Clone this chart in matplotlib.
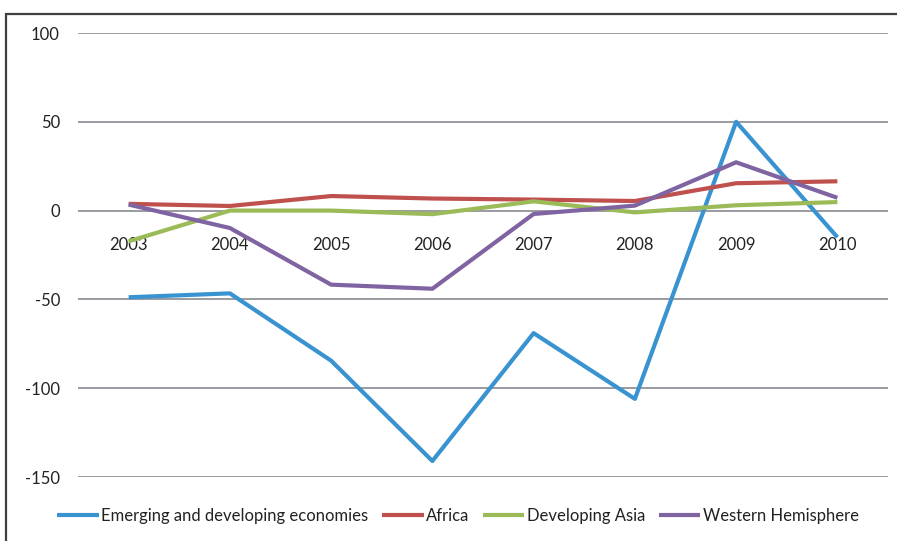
import matplotlib
matplotlib.use('Agg')
from matplotlib import pyplot as plt
from matplotlib.patches import Rectangle

years = ['2003', '2004', '2005', '2006', '2007', '2008', '2009', '2010']
emerging = [-48.8, -46.6, -84.5, -141, -69, -106, 50, -15]
africa = [3.8, 2.6, 8.2, 6.8, 6.2, 5.4, 15.4, 16.5]
dev_asia = [-17.3, 0, 0, -2, 5.2, -1, 3, 4.8]
western = [3.4, -9.8, -41.7, -44, -1.9, 2.8, 27.2, 7.2]

series = [
    ('Emerging and developing economies', emerging, '#3A93D1'),
    ('Africa', africa, '#C0504D'),
    ('Developing Asia', dev_asia, '#9BBB59'),
    ('Western Hemisphere', western, '#8064A2'),
]

plt.rcParams['font.family'] = ['Lato', 'DejaVu Sans']

fig = plt.figure(figsize=(8.97, 5.41), dpi=100)
ax = fig.add_axes([78 / 897, 64 / 541, 810 / 897, 444 / 541])

xs = list(range(len(years)))
for name, vals, col in series:
    ax.plot(xs, vals, c=col, lw=3, label=name, solid_capstyle='butt', zorder=3)

# grid
for v in range(-150, 101, 50):
    ax.axhline(y=v, c='#878A90', lw=1.2, zorder=1)

# category axis crosses at zero, like the original
ax.spines['bottom'].set_position(('data', 0))
for s in ax.spines.values():
    s.set_visible(False)

ax.set_xlim(-0.5, len(years) - 0.5)
ax.set_ylim(-150, 100)
ax.set_yticks(range(-150, 101, 50))
ax.set_yticklabels([str(v) for v in range(-150, 101, 50)])
ax.set_xticks(xs)
ax.set_xticklabels(years)
ax.tick_params(axis='both', length=0, labelsize=12, labelcolor='#222222')
ax.tick_params(axis='y', pad=13)
ax.tick_params(axis='x', pad=19)

leg = fig.legend(loc='center', bbox_to_anchor=(458 / 897, 1 - 516 / 541), ncol=4,
                 frameon=False, fontsize=12, handlelength=2.5, handletextpad=0.15,
                 columnspacing=0.8, labelcolor='#222222')

# outer frame
fig.patches.append(Rectangle((5.5 / 897, -0.5), 3, 1.5 - 13.5 / 541,
                             transform=fig.transFigure, fill=False,
                             ec='#404040', lw=1.6))

plt.savefig('out.png', dpi=100)
plt.close()
